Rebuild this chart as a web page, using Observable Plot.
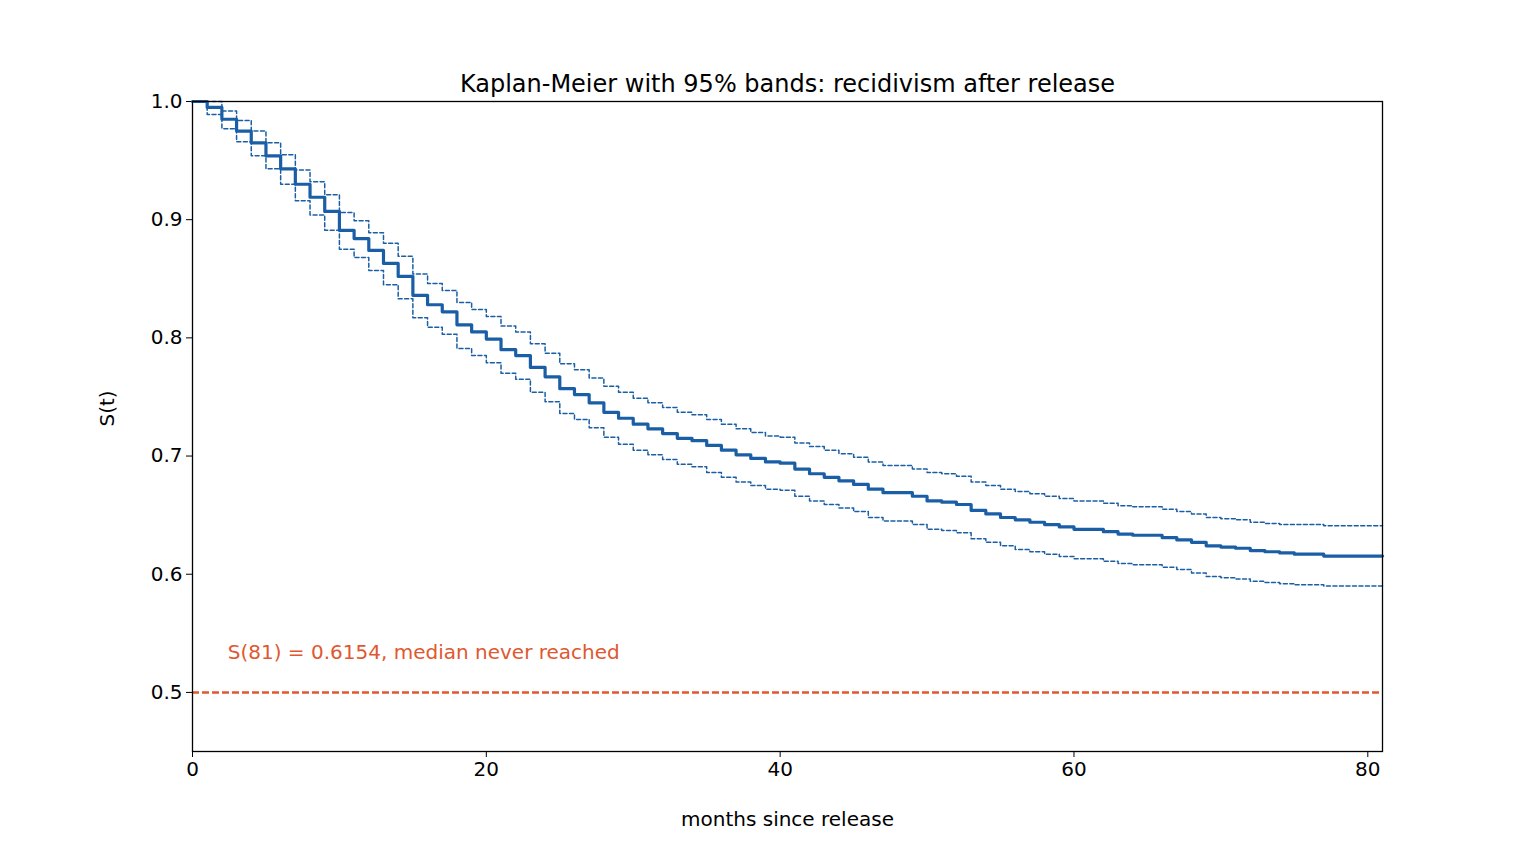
<!DOCTYPE html>
<html><head><meta charset="utf-8">
<script src="https://cdn.jsdelivr.net/npm/d3@7"></script>
<script src="https://cdn.jsdelivr.net/npm/@observablehq/plot@0.6"></script>
<style>body{margin:0;background:#fff;font-family:"DejaVu Sans",sans-serif}</style>
</head><body><div id="c"></div>
<script>
const months = d3.range(0, 82);
const surv = [1.000,0.995,0.985,0.975,0.965,0.954,0.943,0.930,0.919,0.907,0.891,0.884,0.874,0.863,0.852,0.836,0.828,0.822,0.811,0.805,0.799,0.790,0.785,0.775,0.767,0.757,0.752,0.745,0.737,0.732,0.727,0.723,0.719,0.715,0.713,0.709,0.705,0.701,0.698,0.695,0.694,0.689,0.685,0.682,0.679,0.676,0.672,0.669,0.669,0.666,0.662,0.661,0.659,0.654,0.651,0.648,0.646,0.644,0.642,0.640,0.638,0.638,0.636,0.634,0.633,0.633,0.631,0.629,0.627,0.624,0.623,0.622,0.620,0.619,0.618,0.617,0.617,0.6154,0.6154,0.6154,0.6154,0.6154];
const upper = [1.000,1.000,0.992,0.984,0.975,0.965,0.955,0.942,0.932,0.921,0.906,0.899,0.889,0.880,0.869,0.854,0.846,0.840,0.830,0.824,0.818,0.810,0.805,0.795,0.787,0.778,0.773,0.766,0.759,0.754,0.749,0.745,0.741,0.737,0.735,0.731,0.727,0.723,0.720,0.717,0.716,0.711,0.708,0.705,0.702,0.699,0.695,0.692,0.692,0.689,0.686,0.685,0.683,0.678,0.675,0.672,0.670,0.668,0.666,0.664,0.662,0.662,0.660,0.658,0.657,0.657,0.655,0.653,0.651,0.648,0.647,0.646,0.644,0.643,0.642,0.642,0.642,0.641,0.641,0.641,0.641,0.641];
const lower = [1.000,0.989,0.977,0.966,0.954,0.943,0.930,0.916,0.904,0.891,0.875,0.868,0.857,0.845,0.833,0.817,0.809,0.803,0.791,0.785,0.779,0.770,0.765,0.754,0.746,0.736,0.731,0.724,0.716,0.710,0.705,0.701,0.697,0.693,0.691,0.686,0.682,0.678,0.675,0.672,0.671,0.666,0.662,0.659,0.656,0.653,0.648,0.645,0.645,0.642,0.638,0.637,0.635,0.630,0.627,0.624,0.621,0.619,0.617,0.615,0.613,0.613,0.611,0.609,0.608,0.608,0.606,0.604,0.601,0.598,0.597,0.596,0.594,0.593,0.592,0.591,0.591,0.590,0.590,0.590,0.590,0.590];
const xTicks = [0,20,40,60,80];
const yTicks = [0.5,0.6,0.7,0.8,0.9,1.0];
const medianLine = [0.5];
const note = "S(81) = 0.6154, median never reached";
const title = "Kaplan-Meier with 95% bands: recidivism after release";

const rows = months.map((m,i)=>({m, s:surv[i], u:upper[i], l:lower[i]}));
const blue = "#1a5fa6", orange = "#e0582f";
const chart = Plot.plot({
  width:1536, height:844,
  marginLeft:192, marginRight:154, marginTop:101, marginBottom:93,
  style:{fontFamily:"DejaVu Sans, sans-serif", fontSize:"20px", color:"#000", background:"#fff"},
  x:{domain:[0,81]},
  y:{domain:[0.45,1.0]},
  marks:[
    Plot.axisX({ticks:xTicks, tickSize:6, tickPadding:4, fontSize:20, label:null}),
    Plot.axisY({ticks:yTicks, tickFormat:".1f", tickSize:6, tickPadding:4, fontSize:20, label:null}),
    Plot.text(["months since release"], {frameAnchor:"bottom", dy:74, text:d=>d, fontSize:20, fill:"#000"}),
    Plot.text(["S(t)"], {frameAnchor:"left", dx:-85, rotate:-90, text:d=>d, fontSize:20, fill:"#000"}),
    Plot.ruleY(medianLine, {stroke:orange, strokeWidth:2.5, strokeDasharray:"7,3"}),
    Plot.line(rows, {x:"m", y:"u", curve:"step-after", stroke:blue, strokeWidth:1.5, strokeDasharray:"4,2.5"}),
    Plot.line(rows, {x:"m", y:"l", curve:"step-after", stroke:blue, strokeWidth:1.5, strokeDasharray:"4,2.5"}),
    Plot.line(rows, {x:"m", y:"s", curve:"step-after", stroke:blue, strokeWidth:3.2}),
    Plot.text([note], {x:2.4, y:0.534, text:d=>d, textAnchor:"start", fill:orange, fontSize:20}),
    Plot.text([title], {frameAnchor:"top", dy:-27, text:d=>d, fontSize:24, fill:"#000"}),
    Plot.frame({stroke:"#000", strokeWidth:1.3})
  ]
});
document.getElementById("c").append(chart);
</script></body></html>
